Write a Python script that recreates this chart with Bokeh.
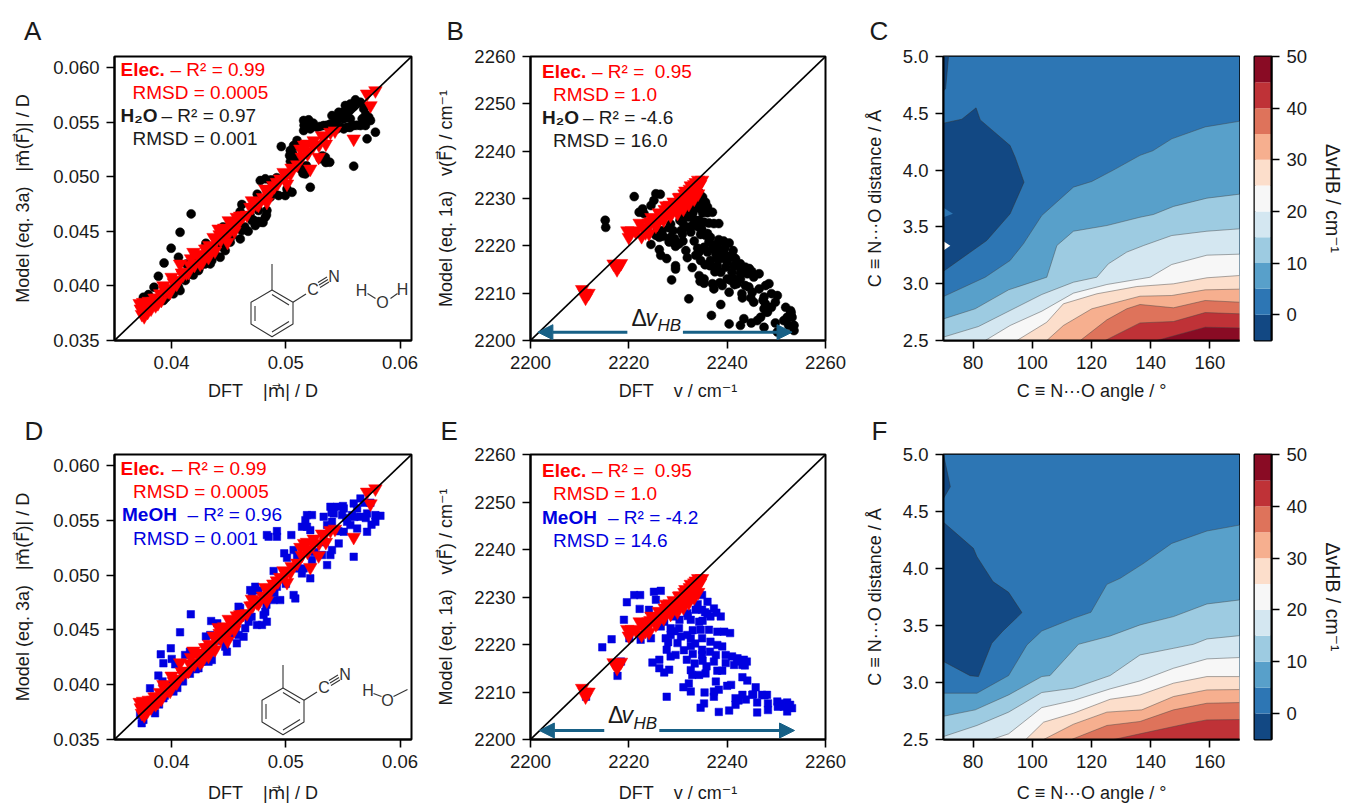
import numpy as np
from bokeh.embed import file_html
from bokeh.resources import INLINE
from bokeh.plotting import figure
from bokeh.layouts import row, column
from bokeh.models import Range1d, FixedTicker, NumeralTickFormatter, Label, Arrow, NormalHead, Title

# ---------------- data ----------------
# dipole panels, values in 10^-3 D
elec_m_x = [57.84,57.11,57.41,55.94,53.9,53.17,52.44,51.85,51.27,52.87,52.14,50.39,49.8,49.22,50.1,48.2,48.34,47.03,47.47,46.3,45.71,45.0,44.11,44.84,43.67,42.94,41.91,43.23,42.5,40.74,41.48,40.0,39.28,40.45,39.87,37.2,37.3,37.4,37.5,37.6,37.8,37.9,38.0,38.2,38.3,38.5,38.6,38.8,39.0,39.1,
            54.3,53.5,52.0,51.6,49.3,48.9,48.5,47.6,46.9,46.0,45.3,44.6,44.2,43.3,42.2,41.0,40.3,39.6,45.5,44.9,43.8,42.7,41.7,
            37.4,37.7,38.1,38.4,38.7,39.4,39.7,40.2,40.6,40.9,41.3,41.6,42.0,42.4,42.8,43.1,43.5,43.9,44.3,44.7,45.1,45.4,45.8,46.2,46.6,47.1,47.6,48.0,48.6,49.0,49.5,50.0,50.5,51.0,51.4,51.9,52.4,52.9,53.4]
elec_m_y = [57.88,57.58,56.51,53.46,54.07,53.76,53.3,53.0,52.54,51.78,50.71,50.25,50.4,49.49,49.34,48.88,47.66,47.81,47.5,46.44,46.29,45.98,45.22,44.76,44.45,43.39,43.08,42.62,42.01,42.01,41.25,40.8,40.03,40.18,39.42,38.4,37.9,37.4,38.5,37.2,38.1,37.6,38.6,37.9,38.5,38.9,38.2,38.4,39.3,38.7,
            54.2,53.0,52.3,52.9,49.4,49.2,48.3,47.4,47.2,46.4,45.5,45.3,44.7,43.7,42.9,41.0,40.5,39.8,45.0,44.0,43.2,42.2,42.5,
            37.8,38.0,38.0,38.6,38.9,39.6,39.5,40.3,40.5,41.2,41.2,41.9,41.9,42.7,42.7,43.4,43.4,44.2,44.2,45.0,45.0,45.7,45.7,46.4,46.5,47.2,47.7,48.1,48.8,49.1,49.8,50.1,50.8,51.1,51.8,52.1,52.8,52.9,53.7]

water_m_x = [41.71,40.74,39.96,40.6,39.34,38.84,38.46,37.97,37.53,49.60,55.94,57.84,57.11,52.14,53.84,53.46,53.02,51.71,51.27,50.68,50.33,50.68,50.98,50.39,51.56,52.0,51.71,51.56,52.29,52.73,52.14,53.31,53.9,54.48,54.04,54.63,55.07,55.51,55.65,56.09,56.53,56.82,57.26,56.97,57.41,56.53,55.94,55.36,55.65,55.07,54.48,56.68,55.21,48.2,47.76,48.64,50.1,50.54,49.95,49.37,48.93,48.64,46.15,48.34,48.2,47.76,47.32,47.03,46.88,47.61,46.15,46.01,45.71,44.69,44.25,43.52,43.38,45.13,41.62,40.74,39.28,42.35,40.16,
             39.5,40.6,41.2,41.9,42.4,42.9,43.8,44.4,44.9,45.3,46.4,47.2,47.6,48.0,48.3,46.7,41.3,42.0,43.0,44.5,46.0,47.5,48.7,49.2,50.4,51.6,52.4,53.0,53.6,54.2,54.8,55.3,55.9,56.2,56.9,57.0,56.9,56.2,55.6,54.9,55.0,54.3,54.0,51.0,50.6,50.9,51.5,51.8,53.5,53.2]
water_m_y = [46.59,44.91,43.45,42.62,42.10,40.88,39.88,39.20,38.96,52.76,50.96,54.07,53.46,49.03,51.32,51.78,51.63,50.25,50.71,51.78,51.93,52.85,53.31,52.39,55.14,55.2,54.68,54.22,54.83,54.53,54.37,54.68,54.83,55.14,55.59,55.9,55.29,56.05,56.66,57.03,56.81,56.2,55.44,54.68,55.14,54.68,54.68,54.53,55.29,54.37,54.37,55.29,56.51,49.8,49.64,49.64,48.88,48.57,48.27,48.27,48.57,48.12,47.45,46.9,46.29,45.83,45.52,45.98,46.44,46.9,45.06,44.30,45.37,43.23,42.62,42.32,42.01,44.0,41.1,39.57,38.66,41.4,39.27,
             38.9,39.9,40.5,41.0,41.6,42.0,42.9,43.6,44.1,44.6,45.4,46.0,45.9,45.8,46.5,45.0,42.0,42.7,43.9,45.4,46.8,48.4,49.7,49.9,51.4,54.7,54.9,54.6,54.7,54.8,55.4,55.7,56.4,56.8,56.4,55.7,55.0,54.7,54.5,54.5,55.9,55.4,54.5,52.8,52.1,51.4,50.3,51.0,51.3,51.9]

meoh_m_x = [41.68,40.74,39.93,39.05,40.01,39.28,40.31,38.84,41.18,41.33,39.58,38.11,38.55,37.38,37.53,37.24,38.41,39.28,40.16,43.46,43.38,43.23,42.35,43.52,44.84,44.69,45.71,46.3,45.86,45.28,45.86,46.88,47.32,47.03,48.93,49.86,50.1,50.68,50.98,49.22,48.49,48.34,49.22,50.48,51.85,52.29,51.71,51.85,51.41,52.14,53.31,53.9,54.48,55.07,54.19,54.92,53.61,54.04,55.36,55.94,56.53,56.24,55.8,56.53,57.11,57.84,58.28,57.84,57.11,56.24,55.65,55.07,54.63,55.94,53.9,53.61,54.04,53.17,52.14,51.41,51.56,52.29,50.83,50.68,49.51,48.93,48.49,49.22,48.34,48.05,47.47,46.74,46.44,47.91,48.2,46.59,
            38.0,38.9,39.4,40.5,41.0,41.6,42.1,42.6,43.5,44.4,45.0,45.6,47.0,47.5,48.3,49.0,50.0,51.0,52.5,53.4,54.6,55.3,56.0,55.0,54.0,56.9,57.4,57.0,57.5,44.0,43.0,41.6,46.0,47.6,39.2]
meoh_m_y = [46.42,44.78,43.32,42.77,42.35,41.95,41.86,40.83,42.71,41.04,39.98,39.67,37.39,36.48,36.79,37.24,38.15,38.76,39.37,45.81,44.53,42.1,41.5,42.25,43.01,43.47,43.77,44.38,44.53,44.69,47.12,48.63,48.94,48.33,50.37,51.98,51.58,52.28,51.67,54.01,53.5,53.65,53.5,53.65,55.47,55.47,55.01,54.41,54.41,54.1,55.32,56.23,56.23,56.08,55.62,55.47,54.56,54.86,54.86,56.53,56.99,56.08,55.47,55.32,55.62,55.47,55.41,54.86,53.95,54.25,54.56,53.95,52.89,51.67,51.83,50.91,52.28,51.83,49.7,50.15,50.61,51.37,47.87,48.18,47.72,47.72,48.48,48.94,45.75,46.36,45.45,45.75,45.14,45.45,46.66,46.36,
            37.7,38.2,39.0,39.7,40.3,41.0,41.4,42.1,43.0,44.0,44.4,45.0,46.2,47.4,47.3,48.4,49.2,50.6,52.1,53.0,54.0,55.2,55.3,56.3,55.7,56.6,56.6,55.2,54.6,45.6,44.4,43.0,47.0,48.6,40.3]

# frequency panels, cm^-1
elec_v_x = [2210.5,2211.2,2211.8,2211.0,2216.9,2217.6,2218.4,2218.0,2219.7,2220.6,2220.0,2221.4,2222.6,2222.2,2223.4,2224.0,2224.6,2225.2,2225.8,2226.1,2226.7,2227.1,2227.6,2228.1,2228.5,2229.1,2229.5,2229.9,2230.2,2230.6,2231.1,2231.3,2231.8,2232.2,2232.4,2232.9,2233.3,2233.3,2233.8,2234.1,2234.1,2234.5,2234.9,
            2223.0,2223.8,2224.4,2225.5,2226.4,2227.3,2228.3,2229.3,2230.4,2231.5,2232.6,2233.6,2224.1,2225.5,2226.9,2228.8,2230.9,2232.7]
elec_v_y = [2210.8,2209.0,2210.0,2210.0,2216.2,2215.0,2216.3,2215.8,2223.2,2223.2,2221.8,2223.0,2222.0,2224.8,2222.8,2224.8,2226.0,2225.2,2224.6,2227.0,2226.2,2225.5,2228.5,2227.2,2226.4,2229.3,2227.8,2226.9,2230.2,2229.0,2227.8,2231.0,2230.0,2228.8,2232.0,2231.0,2229.9,2233.0,2232.0,2231.0,2233.9,2233.0,2233.9,
            2223.9,2223.7,2225.1,2225.9,2226.7,2227.7,2228.6,2229.0,2230.3,2231.6,2232.7,2233.4,2222.6,2224.2,2226.0,2228.0,2229.0,2230.6]

water_v_x = [2221.1,2215.2,2215.3,2225.5,2226.4,2225.1,2224.5,2222.8,2222.1,2223.1,2234.3,2235.0,2233.9,2235.6,2233.3,2234.6,2236.0,2232.2,2233.6,2235.3,2237.0,2232.6,2231.6,2232.2,2233.3,2234.3,2235.3,2236.3,2237.3,2238.3,2230.6,2230.4,2228.5,2228.2,2225.8,2226.8,2225.5,2226.2,2224.5,2228.5,2230.6,2230.9,2229.3,2230.2,2228.2,2232.6,2234.6,2236.6,2238.3,2239.3,2240.4,2236.3,2237.7,2235.3,2237.0,2238.7,2234.3,2236.0,2237.7,2239.7,2233.6,2231.6,2231.9,2226.2,2226.5,2227.7,2229.5,2229.5,2232.9,2234.6,2236.6,2236.5,2238.7,2240.0,2241.7,2239.7,2241.4,2242.7,2243.7,2238.7,2241.0,2242.7,2244.1,2228.7,2234.3,2235.3,2234.5,2235.3,2237.0,2237.3,2239.0,2240.7,2241.4,2242.7,2243.7,2244.4,2245.4,2246.5,2245.1,2246.5,2247.8,2248.5,2240.4,2243.1,2245.4,2247.5,2247.8,2250.2,2249.8,2232.2,2238.7,2236.8,2247.5,2248.2,2246.8,2246.1,2251.9,2252.9,2252.2,2253.2,2251.5,2240.4,2242.7,2243.4,2244.9,2247.5,2249.8,2252.5,2253.6,2253.6,2250.2,2238.0,2240.7,2242.7,2238.0,2241.2,2236.0,2234.8,
             2233.0,2234.0,2235.0,2236.0,2233.0,2231.2,2232.8,2231.0,2234.1,2235.6,2238.0,2239.5,2241.0,2243.0,2244.5,2245.0,2242.0,2241.5,2243.0,2244.8,2249.0,2248.0,2249.0,2247.3,2252.9,2253.0,2233.3,2229.5,2231.0,2235.5,2237.5,2240.0,2238.5,2232.0,2229.0,2227.0,2234.0]
water_v_y = [2230.4,2225.4,2223.9,2231.0,2230.9,2229.6,2228.5,2227.8,2227.1,2226.8,2231.3,2230.3,2229.9,2229.2,2229.2,2228.9,2228.2,2228.5,2228.2,2227.6,2227.1,2227.5,2227.8,2226.1,2225.5,2225.4,2225.0,2224.8,2224.7,2224.7,2226.8,2225.4,2224.6,2223.8,2223.6,2223.2,2222.2,2221.8,2220.3,2221.8,2223.2,2222.5,2221.5,2220.4,2220.8,2222.9,2222.4,2221.8,2221.3,2221.0,2220.6,2220.8,2220.3,2219.7,2219.4,2219.0,2218.7,2218.7,2218.3,2218.0,2218.0,2219.0,2217.5,2219.2,2218.0,2217.3,2215.8,2215.1,2215.4,2216.9,2216.9,2215.8,2217.3,2216.6,2217.3,2215.5,2215.8,2216.2,2215.5,2214.4,2214.4,2214.1,2214.1,2212.8,2213.7,2213.0,2212.5,2212.1,2212.0,2210.9,2211.6,2212.7,2213.0,2213.0,2211.6,2211.3,2213.4,2214.1,2210.2,2210.9,2211.6,2212.0,2210.2,2209.0,2208.1,2209.2,2207.7,2209.5,2208.1,2208.8,2207.6,2205.3,2206.7,2206.0,2204.9,2204.2,2207.0,2206.3,2204.9,2204.9,2204.2,2203.5,2203.2,2204.6,2203.7,2202.8,2203.7,2203.2,2202.1,2203.2,2201.8,2217.3,2217.6,2215.1,2215.8,2219.0,2222.6,2223.6,
             2230.0,2228.0,2227.0,2227.0,2226.9,2226.0,2224.2,2224.8,2224.0,2222.2,2220.0,2219.5,2218.0,2214.6,2215.2,2214.6,2212.0,2211.8,2209.9,2209.0,2209.9,2206.0,2207.0,2208.5,2205.5,2205.9,2221.0,2219.9,2221.0,2216.0,2214.5,2213.0,2212.2,2223.9,2223.2,2222.0,2219.5]

meoh_v_x = [2221.1,2222.3,2219.6,2225.1,2226.5,2225.5,2222.2,2219.0,2224.1,2216.5,2214.6,2222.4,2224.5,2220.1,2217.7,2218.4,2211.3,2227.7,2224.8,2226.2,2226.2,2227.2,2228.2,2227.7,2228.5,2229.5,2231.2,2232.6,2231.8,2233.4,2232.6,2232.9,2234.3,2235.6,2235.8,2238.0,2237.7,2232.2,2231.1,2232.6,2235.4,2237.3,2237.3,2238.3,2240.0,2240.8,2243.1,2244.1,2245.8,2235.3,2234.6,2238.3,2240.4,2241.7,2241.7,2243.1,2243.8,2245.1,2247.1,2248.1,2246.1,2246.1,2248.3,2248.3,2250.2,2250.3,2252.2,2252.2,2253.2,2251.5,2227.2,2228.5,2228.5,2227.5,2230.2,2230.6,2229.9,2231.9,2234.3,2234.6,2234.9,2232.6,2236.3,2238.0,2239.4,2240.6,2236.6,2238.0,2239.0,2234.9,2234.9,2237.7,2239.7,2242.1,2243.4,2237.3,2239.7,2241.4,2243.1,2232.6,2236.6,2238.7,2234.9,2237.3,2236.0,2234.9,2233.6,2231.9,2229.2,2226.5,
            2233.0,2232.0,2235.0,2236.0,2237.8,2234.0,2233.0,2235.5,2228.0,2233.0,2236.5,2241.0,2242.0,2239.0,2235.0,2233.5,2229.3,2243.6,2244.0,2245.3,2242.3,2247.6,2250.8,2252.8,2230.3]
meoh_v_y = [2230.4,2230.4,2228.9,2231.1,2231.3,2229.4,2227.5,2225.2,2227.3,2221.1,2219.4,2221.0,2221.3,2221.3,2213.4,2216.4,2209.0,2209.0,2216.2,2216.8,2215.0,2214.1,2214.7,2218.9,2217.5,2217.8,2218.8,2219.7,2216.8,2216.0,2214.6,2213.6,2213.6,2213.9,2215.4,2214.5,2212.2,2211.8,2211.0,2210.1,2209.9,2209.0,2210.1,2210.5,2211.3,2211.5,2213.1,2212.4,2211.0,2207.6,2206.7,2205.8,2206.1,2208.7,2207.3,2209.4,2208.4,2209.4,2209.4,2209.4,2207.8,2205.7,2207.6,2206.2,2208.0,2206.9,2207.8,2205.9,2206.6,2206.9,2224.8,2223.4,2222.0,2221.3,2223.4,2221.7,2220.3,2222.0,2224.8,2223.1,2221.3,2221.3,2223.1,2222.7,2222.7,2222.4,2220.6,2219.9,2219.6,2218.9,2217.8,2217.8,2217.8,2217.1,2216.8,2216.4,2216.1,2215.7,2215.7,2225.2,2225.9,2225.9,2227.3,2227.6,2229.0,2230.4,2227.3,2226.6,2225.9,2223.8,
            2223.0,2226.0,2225.0,2226.5,2226.7,2228.5,2229.5,2226.8,2220.5,2218.0,2218.5,2217.5,2216.4,2214.5,2216.6,2220.2,2222.8,2215.6,2216.4,2209.5,2208.2,2209.3,2207.6,2207.3,2225.2]

# contour boundaries: angle (deg), distance (angstrom) per level
C_levels = {
    5:  ([70,84.1,92.5,97.0,103.2,113.9,120.1,127.4,136.4,140.7,147.1,158.4,170], [2.887,3.057,3.204,3.351,3.60,3.85,3.90,4.0,4.13,4.17,4.275,4.38,4.43]),
    10: ([70,80.7,92,104.9,108.3,113.9,125.2,136.4,140.9,147.7,159,170], [2.69,2.779,2.946,3.057,3.336,3.462,3.512,3.585,3.609,3.68,3.753,3.788]),
    15: ([70,81.8,92.5,103.2,113.9,121.8,125.7,131.9,137.6,147.1,159,170], [2.53,2.623,2.764,2.905,3.013,3.057,3.175,3.278,3.336,3.424,3.462,3.483]),
    20: ([84.1,92.5,103.2,113.9,125.2,139.8,147.1,159,170], [2.5,2.632,2.758,2.917,2.993,3.057,3.169,3.251,3.26]),
    25: ([94.8,104.9,110.5,121.8,135.3,147.7,159,170], [2.5,2.661,2.823,2.911,2.975,2.999,3.052,3.072]),
    30: ([104.9,110.5,120.1,136.4,147.1,158.4,170], [2.5,2.632,2.779,2.89,2.896,2.946,2.952]),
    35: ([116.2,125.2,131.9,136.4,147.7,158.4,170], [2.5,2.682,2.779,2.817,2.788,2.852,2.837]),
    40: ([124.6,136.4,147.7,158.4,170], [2.5,2.655,2.667,2.746,2.735]),
    45: ([142,158.4,170], [2.5,2.617,2.611]),
}
C_deep_x = [70,76.2,81,82.4,92.5,94.2,97.2,92.5,84.6,70]
C_deep_y = [4.413,4.448,4.548,4.442,4.216,4.114,3.894,3.615,3.38,3.11]
C_corner_x = [70,71.7,70.7,70]
C_corner_y = [5,5,4.715,4.7]
C_hole_x = [70,73.2,70]
C_hole_y = [3.668,3.615,3.586]
C_gap_x = [70,72.3,70]
C_gap_y = [3.374,3.333,3.292]

F_levels = {
    5:  ([70,81.3,92,98.2,103.2,113.9,119.8,125.2,129.7,137.6,147.1,159,170], [2.906,2.906,3.061,3.33,3.452,3.563,3.616,3.861,3.914,4.045,4.22,4.329,4.381]),
    10: ([70,80.7,92,103.2,106,115.6,126.3,136.4,147.7,159,170], [2.704,2.76,2.891,3.052,3.061,3.335,3.408,3.505,3.578,3.689,3.724]),
    15: ([70,81.3,92,103.2,113.9,126.3,136.4,147.7,154.4,159,170], [2.526,2.623,2.74,2.912,2.95,3.061,3.242,3.30,3.335,3.382,3.411]),
    20: ([86.3,92,103.2,113.9,126.3,136.4,147.7,159,170], [2.5,2.55,2.78,2.842,2.944,3.014,3.125,3.207,3.219]),
    25: ([97.8,103.8,113.9,126.3,136.4,147.7,159,170], [2.5,2.652,2.73,2.853,2.891,2.994,3.052,3.052]),
    30: ([103.8,113.9,125.2,137,147.7,159,170], [2.5,2.634,2.74,2.76,2.877,2.935,2.938]),
    35: ([113.2,125.2,136.4,147.7,159,170], [2.5,2.623,2.658,2.76,2.818,2.824]),
    40: ([127.5,136.4,153,159,170], [2.5,2.55,2.643,2.672,2.675]),
}
F_deep_x = [70,80.1,81.3,86.7,92,96.5,90,86.3,81.8,79,70]
F_deep_y = [4.405,4.177,4.104,3.885,3.791,3.613,3.45,3.344,3.052,3.06,3.184]
F_corner_x = [70,72.3,70]
F_corner_y = [5,4.717,4.615]

band_edges = [-5,0,5,10,15,20,25,30,35,40,45,50]
band_colors = ["#124883","#2d76b4","#58a0ca","#9dcbe1","#d4e7f1","#f7f7f7","#fcdecb","#f6af8f","#de735b","#bf3237","#890b24"]
cbar_ticks = [0,10,20,30,40,50]
angle_ticks = [80,100,120,140,160]
dist_ticks = [2.5,3.0,3.5,4.0,4.5,5.0]
m_xticks = [0.04,0.05,0.06]
m_yticks = [0.035,0.040,0.045,0.050,0.055,0.060]
v_ticks = [2200,2220,2240,2260]
v_yticks = [2200,2210,2220,2230,2240,2250,2260]

LAB_MX = "DFT\u00a0\u00a0\u00a0\u00a0|m\u20d7| / D"
LAB_MY = "Model (eq. 3a)\u00a0\u00a0\u00a0|m\u20d7(F\u20d7)| / D"
LAB_VX = "DFT\u00a0\u00a0\u00a0\u00a0v / cm⁻¹"
LAB_VY = "Model (eq. 1a)\u00a0\u00a0\u00a0v(F\u20d7) / cm⁻¹"
LAB_ANG = "C ≡ N···O angle / °"
LAB_DIS = "C ≡ N···O distance / Å"
LAB_CB = "ΔvHB / cm⁻¹"
R2_ELEC_V = "– R² =\u00a0\u00a00.95"

FONT = "Liberation Sans"
STACK = "Liberation Sans, DejaVu Sans"
TICK = "18.5px"
AXL = "18px"
TXT = "19px"
RED = "#ff0000"
BLUE = "#0000e0"
ARROWC = "#176086"
INK = "#1a1a1a"

def style_axis(ax, t, fmt=None, lab=None, stand=10):
    ax.ticker = FixedTicker(ticks=t)
    ax.minor_tick_line_color = None
    ax.major_tick_in = 0
    ax.major_tick_out = 8
    ax.major_tick_line_width = 1.6
    ax.major_tick_line_color = "black"
    ax.axis_line_width = 2
    ax.axis_line_color = "black"
    ax.major_label_text_font = FONT
    ax.major_label_text_font_size = TICK
    ax.major_label_text_color = INK
    ax.major_label_standoff = 7
    if lab:
        ax.axis_label = lab
        ax.axis_label_text_font = STACK
        ax.axis_label_text_font_size = AXL
        ax.axis_label_text_font_style = "normal"
        ax.axis_label_text_color = INK
        ax.axis_label_standoff = stand
    if fmt:
        ax.formatter = NumeralTickFormatter(format=fmt)

def panel(left, fw, right, top, fh, bottom, xr, yr, xticks, yticks, xlab, ylab, letter, loff, lst, xstand, ystand, xfmt=None, yfmt=None):
    p = figure(frame_width=fw, frame_height=fh, x_range=Range1d(*xr), y_range=Range1d(*yr),
               output_backend="svg", toolbar_location=None, min_border_left=left, min_border_right=right,
               min_border_top=top, min_border_bottom=bottom, background_fill_color="white")
    p.grid.visible = False
    p.outline_line_color = "black"
    p.outline_line_width = 2
    p.outline_line_alpha = 1
    style_axis(p.xaxis[0], xticks, xfmt, xlab, xstand)
    style_axis(p.yaxis[0], yticks, yfmt, ylab, ystand)
    p.add_layout(Title(text=letter, text_font=FONT, text_font_size="26px", text_font_style="normal", text_color=INK,
                       align="left", offset=loff, standoff=lst), "above")
    return p

class Pos:
    """Maps page pixels to a panel's data or canvas coordinates, for annotations and insets only."""
    def __init__(self, L, R, T, B, xr, yr, cx, cy):
        self.L, self.R, self.T, self.B, self.xr, self.yr, self.cx, self.cy = L, R, T, B, xr, yr, cx, cy
    def x(self, px):
        return self.xr[0] + (px - self.L) / (self.R - self.L) * (self.xr[1] - self.xr[0])
    def y(self, py):
        return self.yr[0] + (self.B - py) / (self.B - self.T) * (self.yr[1] - self.yr[0])

def put(p, pos, px, py, text, color=INK, size=TXT, style="normal", align="left", angle=0.0):
    p.add_layout(Label(x=px-pos.cx, y=py-pos.cy, x_units="canvas", y_units="canvas", text=text, text_color=color,
                       text_font=FONT, text_font_size=size, text_font_style=style, text_align=align,
                       text_baseline="middle", angle=angle))

def molecule(p, pos, dx, dy, methyl_top, water):
    r = [(0,0),(21,12.3),(21,34),(0,46.7),(-21,34),(-21,12.3),(0,0)]
    xs = [[pos.x(dx+a) for a, b in r]]
    ys = [[pos.y(dy+b) for a, b in r]]
    segs = [[(-17,16),(-17,31)], [(0,42),(17,31.5)], [(0,4.5),(17,15)], [(0,0),(0,methyl_top)], [(21,12.3),(34,4)],
            [(47,-5),(56,-10.5)], [(46,-7.5),(55,-13)], [(48,-2.5),(57,-8)]]
    for s in segs:
        xs.append([pos.x(dx+a) for a, b in s])
        ys.append([pos.y(dy+b) for a, b in s])
    for s in water["bonds"]:
        xs.append([pos.x(a) for a, b in s])
        ys.append([pos.y(b) for a, b in s])
    p.multi_line(xs, ys, line_color="#333333", line_width=1.1)
    put(p, pos, dx+41, dy-1, "C", size="16px", align="center", color="#333333")
    put(p, pos, dx+62, dy-14, "N", size="16px", align="center", color="#333333")
    for (a, b, t) in water["atoms"]:
        put(p, pos, a, b, t, size="16px", align="center", color="#333333")

def scatter_panel(p, xs, ys, marker, size, color, elec_x, elec_y, lim, scale=1.0):
    p.scatter(np.array(xs)*scale, np.array(ys)*scale, marker=marker, size=size, fill_color=color, line_color=color, line_width=0.5)
    p.scatter(np.array(elec_x)*scale, np.array(elec_y)*scale, marker="inverted_triangle", size=13.5, fill_color=RED, line_color=RED, line_width=0.5)
    p.line(lim, lim, line_color="black", line_width=1.6)

def contour_panel(p, levels, deep_x, deep_y, corners, holes, gaps):
    xr, yr = (70,170), (2.5,5.0)
    p.quad(left=[xr[0]], right=[xr[1]], bottom=[yr[0]], top=[yr[1]], fill_color=band_colors[1], line_color=None)
    for lev in sorted(levels):
        xs, ys = levels[lev]
        px = list(xs) + [xr[1]] + ([xr[0]] if xs[0] == xr[0] else [])
        py = list(ys) + [yr[0]] + ([yr[0]] if xs[0] == xr[0] else [])
        p.patch(px, py, fill_color=band_colors[band_edges.index(lev)], line_color=None)
        p.line(xs, ys, line_color="#444444", line_width=0.6, line_alpha=0.75)
    p.patch(deep_x, deep_y, fill_color=band_colors[0], line_color="#333333", line_width=0.5)
    for c in corners:
        p.patch(c[0], c[1], fill_color=band_colors[0], line_color="#333333", line_width=0.5)
    for h in holes:
        p.patch(h[0], h[1], fill_color=band_colors[1], line_color=None)
    for g in gaps:
        p.patch(g[0], g[1], fill_color="white", line_color=None)

def colorbar(left, fw, right, top, fh, bottom):
    p = figure(frame_width=fw, frame_height=fh, x_range=Range1d(0,1), y_range=Range1d(band_edges[0], band_edges[-1]),
               output_backend="svg", toolbar_location=None, min_border_left=left, min_border_right=right,
               min_border_top=top, min_border_bottom=bottom, x_axis_location=None, y_axis_location="right")
    p.grid.visible = False
    p.outline_line_color = "black"
    p.outline_line_width = 2
    p.quad(left=0, right=1, bottom=band_edges[:-1], top=band_edges[1:], fill_color=band_colors, line_color=None)
    style_axis(p.yaxis[0], cbar_ticks, None, LAB_CB, 12)
    p.yaxis[0].axis_label_text_font_size = "19.5px"
    return p

# ---------- layout (page pixels) ----------
M_X, M_Y = (0.035,0.061), (0.035,0.061)
V_R = (2200,2260)
A_R = (70,170); D_R = (2.5,5.0)
ROW1 = dict(top=56, fh=284, bottom=62)
ROW2 = dict(top=51, fh=285, bottom=65)
RY = [(56,340),(453,738)]

def arrows(p,pos,x0,x1,x2,x3,py):
    head = lambda: NormalHead(size=15, fill_color=ARROWC, line_color=ARROWC, line_width=1)
    yy = pos.y(py)
    p.add_layout(Arrow(end=head(), x_start=x1, y_start=yy, x_end=x0, y_end=yy, line_color=ARROWC, line_width=3))
    p.add_layout(Arrow(end=head(), x_start=x2, y_start=yy, x_end=x3, y_end=yy, line_color=ARROWC, line_width=3))

# ----- A -----
pA = panel(114,297,19, xr=M_X, yr=M_Y, xticks=m_xticks, yticks=m_yticks, xlab=LAB_MX, ylab=LAB_MY, letter="A", loff=-90.5, lst=21, xstand=9, ystand=17, xfmt="0.00", yfmt="0.000", **ROW1)
posA = Pos(114,411,*RY[0],M_X,M_Y,0,0)
scatter_panel(pA, water_m_x, water_m_y, "circle", 9, "black", elec_m_x, elec_m_y, M_X, 1e-3)
put(pA,posA,120,68.5,"Elec.",RED,style="bold"); put(pA,posA,170,68.5,"– R² = 0.99",RED)
put(pA,posA,132,91.5,"RMSD = 0.0005",RED)
put(pA,posA,120,115,"H₂O",style="bold"); put(pA,posA,161,115,"– R² = 0.97")
put(pA,posA,132,138,"RMSD = 0.001")
molecule(pA,posA,271.5,289.5,-26,{"bonds":[[(367,293),(375,298)],[(390,298),(397,293)]],"atoms":[(361,290,"H"),(382,302,"O"),(402,289,"H")]})

# ----- B -----
pB = panel(100,295,35, xr=V_R, yr=V_R, xticks=v_ticks, yticks=v_yticks, xlab=LAB_VX, ylab=LAB_VY, letter="B", loff=-84, lst=21, xstand=9, ystand=15, **ROW1)
posB = Pos(530,825,*RY[0],V_R,V_R,430,0)
scatter_panel(pB, water_v_x, water_v_y, "circle", 9, "black", elec_v_x, elec_v_y, (2200,2260))
put(pB,posB,541.5,70.5,"Elec.",RED,style="bold"); put(pB,posB,591.5,70.5,R2_ELEC_V,RED)
put(pB,posB,552.5,94,"RMSD = 1.0",RED)
put(pB,posB,541.5,116.5,"H₂O",style="bold"); put(pB,posB,582.5,116.5,"– R² = -4.6")
put(pB,posB,552.5,139.5,"RMSD = 16.0")
arrows(pB,posB,2201.5,2219.7,2231.0,2253.2,331.7)
put(pB,posB,631,317,"Δ",size="23px"); put(pB,posB,645,317,"v",size="23px",style="italic"); put(pB,posB,657,325,"HB",size="17px",style="italic")

# ----- C -----
pC = panel(83,296,1, xr=A_R, yr=D_R, xticks=angle_ticks, yticks=dist_ticks, xlab=LAB_ANG, ylab=LAB_DIS, letter="C", loff=-74, lst=21, xstand=9, ystand=15, yfmt="0.0", **ROW1)
contour_panel(pC, C_levels, C_deep_x, C_deep_y, [(C_corner_x,C_corner_y)], [(C_hole_x,C_hole_y)], [(C_gap_x,C_gap_y)])
cbC = colorbar(14,17,80, **ROW1)

# ----- D -----
pD = panel(114,297,19, xr=M_X, yr=M_Y, xticks=m_xticks, yticks=m_yticks, xlab=LAB_MX, ylab=LAB_MY, letter="D", loff=-90, lst=18, xstand=12, ystand=17, xfmt="0.00", yfmt="0.000", **ROW2)
posD = Pos(114,411,*RY[1],M_X,M_Y,0,402)
scatter_panel(pD, meoh_m_x, meoh_m_y, "square", 7.5, BLUE, elec_m_x, elec_m_y, M_X, 1e-3)
put(pD,posD,120,467,"Elec.",RED,style="bold"); put(pD,posD,171.5,467,"– R² = 0.99",RED)
put(pD,posD,132.5,490,"RMSD = 0.0005",RED)
put(pD,posD,121.5,513,"MeOH",BLUE,style="bold"); put(pD,posD,187,513,"– R² = 0.96",BLUE)
put(pD,posD,132.5,536.5,"RMSD = 0.001",BLUE)
molecule(pD,posD,282.5,686.5,-23,{"bonds":[[(373,692),(381,695)],[(393,695),(407,688)]],"atoms":[(367.5,689,"H"),(387,699,"O")]})

# ----- E -----
pE = panel(100,295,35, xr=V_R, yr=V_R, xticks=v_ticks, yticks=v_yticks, xlab=LAB_VX, ylab=LAB_VY, letter="E", loff=-90, lst=18, xstand=12, ystand=15, **ROW2)
posE = Pos(530,825,*RY[1],V_R,V_R,430,402)
scatter_panel(pE, meoh_v_x, meoh_v_y, "square", 7.5, BLUE, elec_v_x, elec_v_y, (2200,2260))
put(pE,posE,541.5,469,"Elec.",RED,style="bold"); put(pE,posE,591.5,469,R2_ELEC_V,RED)
put(pE,posE,552.5,492,"RMSD = 1.0",RED)
put(pE,posE,541.5,515.5,"MeOH",BLUE,style="bold"); put(pE,posE,607.5,515.5,"– R² = -4.2",BLUE)
put(pE,posE,552.5,538.5,"RMSD = 14.6",BLUE)
arrows(pE,posE,2201.8,2215.0,2226.2,2253.7,729)
put(pE,posE,607.5,713,"Δ",size="23px"); put(pE,posE,621,713,"v",size="23px",style="italic"); put(pE,posE,633,721.5,"HB",size="17px",style="italic")

# ----- F -----
pF = panel(83,296,1, xr=A_R, yr=D_R, xticks=angle_ticks, yticks=dist_ticks, xlab=LAB_ANG, ylab=LAB_DIS, letter="F", loff=-72, lst=18, xstand=12, ystand=15, yfmt="0.0", **ROW2)
contour_panel(pF, F_levels, F_deep_x, F_deep_y, [(F_corner_x,F_corner_y)], [], [])
cbF = colorbar(14,17,80, **ROW2)

layout = column(row(pA,pB,pC,cbC), row(pD,pE,pF,cbF))
open("out.html", "w").write(file_html(layout, INLINE))
